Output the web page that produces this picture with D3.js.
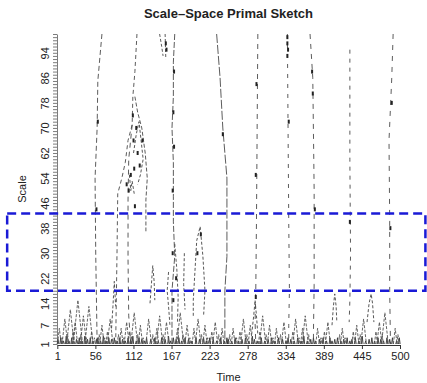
<!DOCTYPE html>
<html><head><meta charset="utf-8">
<script src="https://cdn.jsdelivr.net/npm/d3@7"></script>
<style>body{margin:0;background:#fff}svg{display:block;font-family:"Liberation Sans",Arial,sans-serif}</style>
</head><body>
<script>
// ---- data ----
const title = "Scale\u2013Space Primal Sketch";
const xLabel = "Time", yLabel = "Scale";
const timeDomain = [1, 500];
const scaleDomain = [1, 100];
const xTickLabels = ["1","56","112","167","223","278","334","389","445","500"];
const yTickLabels = [1,7,14,22,30,38,46,54,62,70,78,86,94];
// long blob tracks: [time, scale]
const trackA  = [[66,100],[60,85],[59,70],[56,54],[57,29],[59,1]];
const trackB1 = [[117,100],[114,88],[111,80],[110,71],[104,66],[100,59],[95,54],[89,49],[88,31],[86,1]];
const trackB2 = [[114,80],[118,75],[124,70],[129,62],[132,54],[130,47],[130,37]];
const trackB3 = [[110,71],[105,60],[104,47],[104,28],[105,10],[108,1]];
const trackC0a = [[150,100],[153,96],[155,93]];
const trackC0b = [[158,100],[159,92]];
const trackC  = [[172,100],[170,91],[170,80],[168,70],[170,59],[170,48],[170,40],[172,29],[168,18],[168,8],[168,1]];
const trackC1 = [[163,24],[161,18],[163,13],[165,7]];
const trackC2 = [[172,33],[175,25],[177,16],[176,8]];
const trackD  = [[233,100],[238,86],[242,70],[248,54],[248,29],[245,18],[245,1]];
const trackE  = [[293,100],[292,70],[291,40],[290,18],[289,8],[290,1]];
const trackF  = [[336,100],[337,70],[338,40],[339,18],[338,7],[338,1]];
const trackG  = [[369,100],[373,86],[375,50],[375,20],[374,5],[374,1]];
const trackH  = [[427,95],[427,60],[428,30],[427,15],[426,8]];
const trackI  = [[490,100],[488,86],[484,66],[485,40],[485,18],[486,3],[486,1]];
// mid-scale clusters
const clusterP1 = [[136,14],[138,20],[140,26],[142,21],[143,15]];
const clusterP2 = [[199,10],[199,15],[204,34],[209,38.5],[213,29],[216,18],[214,10]];
const clusterP3 = [[186,30],[185,20],[187,12]];
const clusterP4 = [[401,7],[403,13],[405,17],[407,13],[408,8]];
const clusterP5 = [[452,8],[455,14],[458,17],[460,14],[462,8]];
const clusterP6 = [[284,4],[287,10],[289,15],[291,10],[293,4]];
const clusterP7 = [[80,6],[82,13],[84,21],[86,13]];
const clusterP8 = [[112,62],[116,68],[120,72],[123,66],[126,60],[122,55],[118,52]];
const clusterP9 = [[106,55],[108,50],[110,53],[113,49]];
// small-scale peaks: [time, top scale]
const peakTimes   = [4,8,12,16,20,24,27,31,35,39,43,47,51,55,62,66,70,74,78,90,94,98,102,106,113,118,122,126,134,140,146,150,155,160,176,180,184,190,194,200,206,211,216,220,226,231,236,241,252,257,262,267,272,277,282,296,300,305,310,315,320,326,331,344,348,353,358,362,367,380,385,390,395,412,416,420,432,437,442,447,465,470,474,478,493,497];
const peakHeights = [6,3,9,4,12,5,8,15,4,10,3,13,5,3,4,7,3,5,9,4,6,3,8,5,11,4,7,3,9,4,6,10,4,8,6,11,4,7,3,6,9,4,7,3,5,8,4,6,4,6,3,5,9,4,7,5,10,4,7,3,6,4,8,5,9,3,6,10,4,6,3,5,8,4,6,3,5,7,4,9,5,8,4,11,6,4];
const floorTimes   = [2,6,10,14,18,22,29,33,37,41,45,49,53,58,60,64,68,72,76,80,84,88,92,96,100,104,108,111,116,120,124,128,131,137,143,148,153,158,163,166,170,174,178,182,187,192,197,203,208,214,218,223,228,233,239,244,248,250,255,260,265,270,275,280,285,288,292,298,303,308,313,318,323,329,334,337,341,346,351,356,360,365,370,374,377,383,388,393,398,401,405,409,414,418,423,427,430,435,440,445,450,455,459,463,468,472,476,481,485,489,495,499];
const floorHeights = [2.5,3,2,3.5,2,3,2.5,3,2,3.5,2.5,3,2,2.5,3,2,3.5,2,3,2.5,3,2,3,2.5,2,3,2.5,3.5,2,3,2.5,2,3,2.5,3,2,3,2.5,3.5,2,3,2.5,3,2,3,2.5,2,3,2.5,3,2,3,2.5,2,3,2,3,2.5,2,3,2,2.5,3,2,3.5,2.5,2,3,2,2.5,3,2,3,2.5,2,3,2.5,2,3,2,3.5,2,2.5,3,2,2.5,3,2,3,2,2.5,3,2,2.5,3,2,2.5,3,2,3.5,2,2.5,3,2,3,2.5,2,3,2.5,3,2,3];
// dark dense spots: [time, scale]
const darkSpots = [[336,99],[336,97],[337,95],[336,93],[372,88],[373,81],[488,78],[159,97],[160,95],[118,62],[112,66],[121,58],[116,70],[125,66],[113,57],[108,55],[111,74],[102,52],[105,50],[171,88],[170,75],[171,64],[169,50],[291,84],[290,55],[338,72],[376,44],[242,68],[60,72],[58,44],[169,30],[174,22],[210,36],[205,30],[290,16],[486,38],[427,40],[170,15],[114,45]];
// highlighted band (dashed blue box)
const boxTime = [-72, 537];
const boxScale = [18, 42.7];

// ---- chart ----
const W = 427, H = 383;
const svg = d3.select("body").append("svg").attr("width", W).attr("height", H);
const x = d3.scaleLinear().domain(timeDomain).range([57.3, 400]);
const y = d3.scaleLinear().domain(scaleDomain).range([344, 34]);
const line = d3.line().x(d => x(d[0])).y(d => y(d[1]));
const plot = svg.append("g");

// floor peaks
floorTimes.forEach((t, i) => {
  const h = floorHeights[i], w = 1.2;
  plot.append("path").attr("d", line([[t - w, 1], [t, h], [t + w, 1]]))
    .attr("fill", "none").attr("stroke", "#333").attr("stroke-width", 0.9);
});
// small peaks
peakTimes.forEach((t, i) => {
  const h = peakHeights[i], w = 0.45 * h;
  plot.append("path").attr("d", line([[t - w, 1], [t, h], [t + w, 1]]))
    .attr("fill", "none").attr("stroke", "#555").attr("stroke-width", 0.9)
    .attr("stroke-dasharray", "3,1.5");
});
// clusters
[clusterP1, clusterP2, clusterP3, clusterP4, clusterP5, clusterP6, clusterP7, clusterP8, clusterP9].forEach(c => {
  plot.append("path").attr("d", line(c)).attr("fill", "none")
    .attr("stroke", "#444").attr("stroke-width", 0.9).attr("stroke-dasharray", "3,2");
});
// tracks
const tracks = [
  [trackA, "5,3"], [trackB1, "4,3"], [trackB2, "4,2"], [trackB3, "5,4"],
  [trackC0a, "3,2"], [trackC0b, "3,2"], [trackC, "6,2"], [trackC1, "3,2"], [trackC2, "3,2"],
  [trackD, "9,2"], [trackE, "5,5"], [trackF, "4,6"], [trackG, "5,5"], [trackH, "4,5"], [trackI, "5,6"]
];
tracks.forEach(([pts, dash]) => {
  plot.append("path").attr("d", line(pts)).attr("fill", "none")
    .attr("stroke", "#4a4a4a").attr("stroke-width", 0.9).attr("stroke-dasharray", dash);
});
// dark spots
plot.selectAll("rect.spot").data(darkSpots).join("rect").attr("class", "spot")
  .attr("x", d => x(d[0]) - 1).attr("y", d => y(d[1]) - 2)
  .attr("width", 2).attr("height", 4).attr("fill", "#222");

// axes
const xTickPos = d3.range(10).map(i => 1 + i * 499 / 9);
const xAxis = svg.append("g").attr("transform", `translate(0,${y(1) + 1})`)
  .call(d3.axisBottom(x).tickValues(xTickPos).tickSize(4).tickSizeOuter(0)
    .tickFormat((d, i) => xTickLabels[i]));
xAxis.selectAll("text").attr("font-size", 11).attr("fill", "#222").attr("dy", "0.9em").attr("y", 5);
xAxis.selectAll("line,path").attr("stroke", "#333");

const yAxis = svg.append("g").attr("transform", `translate(57,0)`)
  .call(d3.axisLeft(y).tickValues(d3.range(1, 101)).tickSize(4).tickSizeOuter(0)
    .tickFormat(d => yTickLabels.includes(d) ? d : ""));
yAxis.selectAll("text").attr("transform", "rotate(-90)").attr("x", 0).attr("y", -8)
  .attr("dy", 0).attr("text-anchor", "middle").attr("font-size", 11).attr("fill", "#222");
yAxis.selectAll("line,path").attr("stroke", "#444").attr("stroke-width", 0.7);

// box
svg.append("rect")
  .attr("x", x(boxTime[0])).attr("y", y(boxScale[1]))
  .attr("width", x(boxTime[1]) - x(boxTime[0])).attr("height", y(boxScale[0]) - y(boxScale[1]))
  .attr("fill", "none").attr("stroke", "#1a1ad6").attr("stroke-width", 2.5)
  .attr("stroke-dasharray", "9,5");

// titles
svg.append("text").attr("x", 228.5).attr("y", 18).attr("text-anchor", "middle")
  .attr("font-size", 13).attr("font-weight", "bold").attr("fill", "#222").text(title);
svg.append("text").attr("x", 228.5).attr("y", 381).attr("text-anchor", "middle")
  .attr("font-size", 11).attr("fill", "#222").text(xLabel);
svg.append("text").attr("transform", "translate(26,189) rotate(-90)").attr("text-anchor", "middle")
  .attr("font-size", 11).attr("fill", "#222").text(yLabel);
</script>
</body></html>
